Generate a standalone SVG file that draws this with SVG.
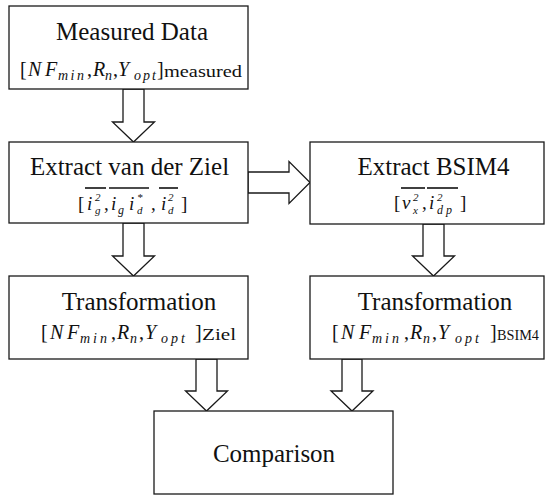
<svg xmlns="http://www.w3.org/2000/svg" width="546" height="495" viewBox="0 0 546 495">
  <style>
    .box { fill: #ffffff; stroke: #1a1a1a; stroke-width: 1.3; }
    .arrow { fill: #ffffff; stroke: #1a1a1a; stroke-width: 1.3; stroke-linejoin: miter; }
    .title { font-family: 'Liberation Serif', 'Times New Roman', serif; font-size: 25px; fill: #111; text-anchor: middle; }
    .math { font-family: 'Liberation Serif', 'Times New Roman', serif; fill: #111; }
    .mi { font-style: italic; }
    .bar { stroke: #111; stroke-width: 1.6; }
  </style>
  <rect width="546" height="495" fill="#ffffff"/>

  <!-- block arrows between the stages -->
  <g id="connectors">
    <polygon class="arrow" points="123,89 144,89 144,122 154.5,122 133.5,142 112.5,122 123,122"/>
    <polygon class="arrow" points="123,223 144,223 144,256 154.5,256 133.5,276 112.5,256 123,256"/>
    <polygon class="arrow" points="248,172 289,172 289,161.5 310,182.5 289,203.5 289,193 248,193"/>
    <polygon class="arrow" points="423,224 444,224 444,256 454.5,256 433.5,276 412.5,256 423,256"/>
    <polygon class="arrow" points="196,359 217,359 217,391 227.5,391 206.5,411 185.5,391 196,391"/>
    <polygon class="arrow" points="342,359 362,359 362,391 373,391 352,411 331,391 342,391"/>
  </g>

  <g id="measured">
    <rect class="box" x="9" y="6" width="239" height="83"/>
    <text class="title" x="132" y="40">Measured Data</text>
    <text class="math" font-size="20">
      <tspan x="20" y="76">[</tspan>
      <tspan class="mi" x="28" y="76">N</tspan>
      <tspan class="mi" x="45" y="76">F</tspan>
      <tspan class="mi" x="58" y="80" font-size="14" letter-spacing="2.5">min</tspan>
      <tspan x="87" y="76">,</tspan>
      <tspan class="mi" x="93" y="76">R</tspan>
      <tspan class="mi" x="105" y="80" font-size="14">n</tspan>
      <tspan x="113" y="76">,</tspan>
      <tspan class="mi" x="118" y="76">Y</tspan>
      <tspan class="mi" x="134" y="80" font-size="14" letter-spacing="2">opt</tspan>
      <tspan x="157" y="76">]</tspan>
      <tspan x="164" y="77" font-size="16" textLength="78" lengthAdjust="spacingAndGlyphs">measured</tspan>
    </text>
  </g>

  <g id="extract-vdz">
    <rect class="box" x="9" y="142" width="239" height="81"/>
    <text class="title" x="129.5" y="175">Extract van der Ziel</text>
    <line class="bar" x1="85" y1="188" x2="106" y2="188"/>
    <line class="bar" x1="109" y1="188" x2="149" y2="188"/>
    <line class="bar" x1="159" y1="188" x2="178" y2="188"/>
    <text class="math" font-size="19">
      <tspan x="78" y="210">[</tspan>
      <tspan class="mi" x="87" y="210">i</tspan>
      <tspan class="mi" x="95" y="201" font-size="11">2</tspan>
      <tspan class="mi" x="95" y="214" font-size="11">g</tspan>
      <tspan x="104" y="210">,</tspan>
      <tspan class="mi" x="111" y="210">i</tspan>
      <tspan class="mi" x="118" y="214" font-size="12">g</tspan>
      <tspan class="mi" x="129" y="210">i</tspan>
      <tspan class="mi" x="137" y="201" font-size="11">*</tspan>
      <tspan class="mi" x="137" y="214" font-size="11">d</tspan>
      <tspan x="151" y="210">,</tspan>
      <tspan class="mi" x="161" y="210">i</tspan>
      <tspan class="mi" x="168" y="201" font-size="11">2</tspan>
      <tspan class="mi" x="168" y="214" font-size="11">d</tspan>
      <tspan x="181" y="210">]</tspan>
    </text>
  </g>

  <g id="extract-bsim4">
    <rect class="box" x="310" y="142" width="234" height="82"/>
    <text class="title" x="433.5" y="175">Extract BSIM4</text>
    <line class="bar" x1="401" y1="188" x2="425" y2="188"/>
    <line class="bar" x1="427" y1="188" x2="458" y2="188"/>
    <text class="math" font-size="19">
      <tspan x="394" y="209">[</tspan>
      <tspan class="mi" x="402" y="209">v</tspan>
      <tspan class="mi" x="413" y="201" font-size="11">2</tspan>
      <tspan class="mi" x="413" y="214" font-size="11">x</tspan>
      <tspan x="422" y="209">,</tspan>
      <tspan class="mi" x="429" y="209">i</tspan>
      <tspan class="mi" x="437" y="201" font-size="11">2</tspan>
      <tspan class="mi" x="437" y="214" font-size="12" letter-spacing="3">dp</tspan>
      <tspan x="460" y="209">]</tspan>
    </text>
  </g>

  <g id="transform-vdz">
    <rect class="box" x="9" y="276" width="239" height="83"/>
    <text class="title" x="139" y="310">Transformation</text>
    <text class="math" font-size="20">
      <tspan x="41" y="339">[</tspan>
      <tspan class="mi" x="50" y="339">N</tspan>
      <tspan class="mi" x="67" y="339">F</tspan>
      <tspan class="mi" x="80" y="343" font-size="14" letter-spacing="3">min</tspan>
      <tspan x="111" y="339">,</tspan>
      <tspan class="mi" x="117" y="339">R</tspan>
      <tspan class="mi" x="130" y="343" font-size="14">n</tspan>
      <tspan x="139" y="339">,</tspan>
      <tspan class="mi" x="145" y="339">Y</tspan>
      <tspan class="mi" x="161" y="343" font-size="14" letter-spacing="3">opt</tspan>
      <tspan x="195" y="339">]</tspan>
      <tspan x="202" y="340" font-size="16" textLength="34" lengthAdjust="spacingAndGlyphs">Ziel</tspan>
    </text>
  </g>

  <g id="transform-bsim4">
    <rect class="box" x="310" y="276" width="234" height="83"/>
    <text class="title" x="435" y="310">Transformation</text>
    <text class="math" font-size="20">
      <tspan x="332" y="339">[</tspan>
      <tspan class="mi" x="341" y="339">N</tspan>
      <tspan class="mi" x="359" y="339">F</tspan>
      <tspan class="mi" x="372" y="343" font-size="14" letter-spacing="3">min</tspan>
      <tspan x="404" y="339">,</tspan>
      <tspan class="mi" x="410" y="339">R</tspan>
      <tspan class="mi" x="423" y="343" font-size="14">n</tspan>
      <tspan x="432" y="339">,</tspan>
      <tspan class="mi" x="438" y="339">Y</tspan>
      <tspan class="mi" x="455" y="343" font-size="14" letter-spacing="3">opt</tspan>
      <tspan x="490" y="339">]</tspan>
      <tspan x="497" y="340" font-size="15" textLength="42" lengthAdjust="spacingAndGlyphs">BSIM4</tspan>
    </text>
  </g>

  <g id="comparison">
    <rect class="box" x="154" y="411" width="239" height="83"/>
    <text class="title" x="274" y="462">Comparison</text>
  </g>
</svg>
